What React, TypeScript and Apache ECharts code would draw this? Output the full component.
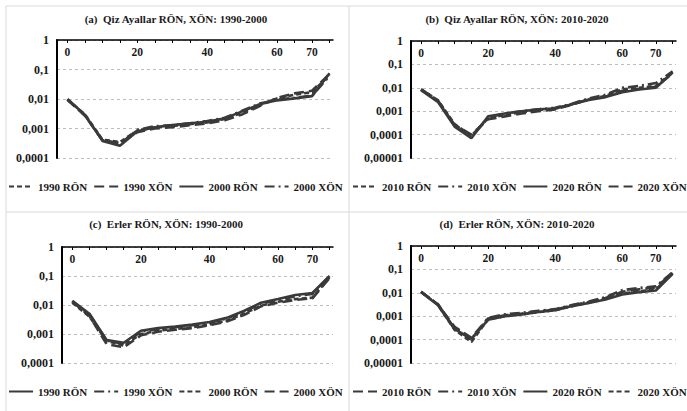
import React, { useEffect, useRef } from 'react';
import * as echarts from 'echarts';

// Ages (x values)
const ages = [0, 5, 10, 15, 20, 25, 30, 35, 40, 45, 50, 55, 60, 65, 70, 75];
const xTickValues = [0, 5, 10, 15, 20, 25, 30, 35, 40, 45, 50, 55, 60, 65, 70, 75];
const xLabelValues = [0, 20, 40, 60, 70];

// Panel titles
const titles = [
  '(a)  Qiz Ayallar RÖN, XÖN: 1990-2000',
  '(b)  Qiz Ayallar RÖN, XÖN: 2010-2020',
  '(c)  Erler RÖN, XÖN: 1990-2000',
  '(d)  Erler RÖN, XÖN: 2010-2020',
];

// Panel (a) Qiz Ayallar 1990-2000
const a1990RON = [0.0095, 0.0030, 0.00042, 0.00035, 0.00085, 0.0011, 0.0012, 0.0014, 0.0016, 0.0021, 0.0034, 0.0062, 0.0105, 0.014, 0.017, 0.065];
const a1990XON = [0.0095, 0.0027, 0.00040, 0.00032, 0.00075, 0.0010, 0.0011, 0.0013, 0.0015, 0.0019, 0.0030, 0.0058, 0.0110, 0.0155, 0.019, 0.07];
const a2000RON = [0.0100, 0.0029, 0.00038, 0.00026, 0.00080, 0.0011, 0.0013, 0.0015, 0.0017, 0.0022, 0.0038, 0.0066, 0.0090, 0.0105, 0.0125, 0.075];
const a2000XON = [0.0095, 0.0028, 0.00040, 0.00030, 0.00090, 0.0012, 0.0013, 0.0015, 0.0018, 0.0023, 0.0040, 0.0070, 0.0095, 0.0110, 0.0130, 0.060];

// Panel (b) Qiz Ayallar 2010-2020
const b2010RON = [0.0085, 0.0030, 0.00028, 0.00009, 0.00050, 0.0007, 0.0009, 0.0011, 0.0013, 0.0020, 0.0032, 0.0045, 0.0085, 0.0100, 0.0120, 0.045];
const b2010XON = [0.0085, 0.0029, 0.00025, 0.00008, 0.00055, 0.0008, 0.0010, 0.0012, 0.0014, 0.0021, 0.0035, 0.0050, 0.0100, 0.0120, 0.0160, 0.050];
const b2020RON = [0.0080, 0.0025, 0.00022, 0.00007, 0.00060, 0.0008, 0.0010, 0.0012, 0.0013, 0.0020, 0.0030, 0.0040, 0.0065, 0.0085, 0.0100, 0.045];
const b2020XON = [0.0085, 0.0027, 0.00026, 0.00010, 0.00045, 0.0006, 0.0008, 0.0010, 0.0012, 0.0019, 0.0033, 0.0042, 0.0075, 0.0090, 0.0110, 0.042];

// Panel (c) Erler 1990-2000
const c1990RON = [0.014, 0.0050, 0.00062, 0.00050, 0.0013, 0.0016, 0.0018, 0.0021, 0.0026, 0.0036, 0.0062, 0.012, 0.016, 0.022, 0.026, 0.10];
const c1990XON = [0.013, 0.0048, 0.00060, 0.00045, 0.0012, 0.0015, 0.0017, 0.0020, 0.0024, 0.0034, 0.0058, 0.011, 0.015, 0.020, 0.024, 0.095];
const c2000RON = [0.012, 0.0040, 0.00058, 0.00040, 0.0010, 0.0013, 0.0015, 0.0017, 0.0021, 0.0029, 0.0050, 0.0095, 0.013, 0.016, 0.018, 0.09];
const c2000XON = [0.013, 0.0042, 0.00045, 0.00035, 0.0009, 0.0012, 0.0014, 0.0016, 0.0020, 0.0027, 0.0045, 0.0090, 0.012, 0.015, 0.017, 0.085];

// Panel (d) Erler 2010-2020
const d2010RON = [0.011, 0.0032, 0.00035, 0.00012, 0.00080, 0.0011, 0.0013, 0.0016, 0.0019, 0.0029, 0.0040, 0.0060, 0.0110, 0.0140, 0.0170, 0.070];
const d2010XON = [0.011, 0.0033, 0.00030, 0.00010, 0.00085, 0.0012, 0.0014, 0.0017, 0.0020, 0.0030, 0.0042, 0.0065, 0.0130, 0.0160, 0.0190, 0.075];
const d2020RON = [0.0105, 0.0030, 0.00028, 0.00011, 0.00070, 0.0010, 0.0012, 0.0015, 0.0018, 0.0027, 0.0037, 0.0052, 0.0085, 0.0105, 0.0125, 0.065];
const d2020XON = [0.011, 0.0031, 0.00026, 0.00008, 0.00075, 0.0010, 0.0012, 0.0015, 0.0018, 0.0027, 0.0038, 0.0055, 0.0095, 0.0115, 0.0140, 0.068];

const yMins = [0.0001, 0.00001, 0.0001, 0.00001];

const FONT = '"Liberation Serif", "Times New Roman", serif';
const LINE = '#3a3a3a';

const SHORT = [5, 3];
const LONG = [10, 5];
const DASHDOT = [10, 4, 2, 4];
const SOLID = 'solid';

type S = { name: string; data: number[]; dash: any };

const panels: S[][] = [
  [
    { name: '1990 RÖN', data: a1990RON, dash: SHORT },
    { name: '1990 XÖN', data: a1990XON, dash: LONG },
    { name: '2000 RÖN', data: a2000RON, dash: SOLID },
    { name: '2000 XÖN', data: a2000XON, dash: DASHDOT },
  ],
  [
    { name: '2010 RÖN', data: b2010RON, dash: SHORT },
    { name: '2010 XÖN', data: b2010XON, dash: DASHDOT },
    { name: '2020 RÖN', data: b2020RON, dash: SOLID },
    { name: '2020 XÖN', data: b2020XON, dash: LONG },
  ],
  [
    { name: '1990 RÖN', data: c1990RON, dash: SOLID },
    { name: '1990 XÖN', data: c1990XON, dash: DASHDOT },
    { name: '2000 RÖN', data: c2000RON, dash: SHORT },
    { name: '2000 XÖN', data: c2000XON, dash: LONG },
  ],
  [
    { name: '2010 RÖN', data: d2010RON, dash: LONG },
    { name: '2010 XÖN', data: d2010XON, dash: DASHDOT },
    { name: '2020 RÖN', data: d2020RON, dash: SOLID },
    { name: '2020 XÖN', data: d2020XON, dash: SHORT },
  ],
];

const grids = [
  { left: 57, top: 40, width: 276, height: 118 },
  { left: 411, top: 41, width: 265, height: 117 },
  { left: 62, top: 247, width: 271, height: 116 },
  { left: 411, top: 246, width: 265, height: 117 },
];
const titlePos = [
  { x: 176, y: 13 },
  { x: 517, y: 13 },
  { x: 166, y: 218 },
  { x: 517, y: 218 },
];
const legendPos = [
  { x: 8, y: 181 },
  { x: 352, y: 181 },
  { x: 8, y: 386 },
  { x: 352, y: 386 },
];
const suffix = ['#a', '#b', '#c', '#d'];

function yFmt(v: number) {
  const e = Math.round(Math.log10(v));
  if (e >= 0) return '1';
  return '0,' + '0'.repeat(-e - 1) + '1';
}

export default function App() {
  const ref = useRef<HTMLDivElement>(null);
  useEffect(() => {
    if (!ref.current) return;
    const chart = echarts.init(ref.current, undefined, { renderer: 'svg' });
    const series: any[] = [];
    panels.forEach((p, i) => {
      p.forEach((s) => {
        series.push({
          type: 'line',
          name: s.name + suffix[i],
          xAxisIndex: i,
          yAxisIndex: i,
          data: ages.map((a, k) => [a, s.data[k]]),
          symbol: 'none',
          lineStyle: { color: LINE, width: 2.6, type: s.dash },
          itemStyle: { color: LINE },
        });
      });
    });
    const option: any = {
      animation: false,
      backgroundColor: '#ffffff',
      title: titles.map((t, i) => ({
        text: t,
        left: titlePos[i].x,
        top: titlePos[i].y,
        textAlign: 'center',
        padding: 0,
        textStyle: { fontFamily: FONT, fontWeight: 'bold', fontSize: 11, color: '#1a1a1a' },
      })),
      legend: panels.map((p, i) => ({
        data: p.map((s) => s.name + suffix[i]),
        left: legendPos[i].x,
        top: legendPos[i].y,
        width: 340,
        padding: 0,
        itemWidth: 24,
        itemHeight: 12,
        itemGap: 6,
        selectedMode: false,
        itemStyle: { opacity: 0 },
        formatter: (n: string) => n.split('#')[0],
        textStyle: { fontFamily: FONT, fontWeight: 'bold', fontSize: 11, color: '#1a1a1a' },
      })),
      grid: grids.map((g) => ({ ...g, containLabel: false })),
      xAxis: grids.map((_, i) => ({
        type: 'value',
        gridIndex: i,
        position: 'top',
        min: -3,
        max: 76,
        axisLine: { show: true, onZero: false, lineStyle: { color: '#000', width: 1.5 } },
        axisTick: { show: true, inside: true, length: 3, customValues: xTickValues, lineStyle: { color: '#000', width: 1 } },
        axisLabel: {
          show: true,
          inside: true,
          margin: 6,
          customValues: xLabelValues,
          fontFamily: FONT,
          fontWeight: 'bold',
          fontSize: 11.5,
          color: '#1a1a1a',
        },
        splitLine: { show: false },
      })),
      yAxis: grids.map((_, i) => ({
        type: 'log',
        logBase: 10,
        gridIndex: i,
        min: yMins[i],
        max: 1,
        axisLine: { show: true, onZero: false, lineStyle: { color: '#000', width: 2 } },
        axisTick: { show: false },
        axisLabel: {
          formatter: yFmt,
          margin: 8,
          fontFamily: FONT,
          fontWeight: 'bold',
          fontSize: 12,
          color: '#1a1a1a',
        },
        splitLine: { show: true, lineStyle: { color: '#bdbdbd', width: 1, type: [3, 3] } },
      })),
      series,
      graphic: [
        { type: 'line', shape: { x1: 6, y1: 6, x2: 687, y2: 6 }, style: { stroke: '#d9d9d9', lineWidth: 1 } },
        { type: 'line', shape: { x1: 6, y1: 212, x2: 687, y2: 212 }, style: { stroke: '#d9d9d9', lineWidth: 1 } },
        { type: 'line', shape: { x1: 6, y1: 6, x2: 6, y2: 411 }, style: { stroke: '#d9d9d9', lineWidth: 1 } },
        { type: 'line', shape: { x1: 349, y1: 6, x2: 349, y2: 411 }, style: { stroke: '#d9d9d9', lineWidth: 1 } },
      ],
    };
    chart.setOption(option);
    return () => chart.dispose();
  }, []);
  return (
    <div style={{ position: 'fixed', left: 0, top: 0, width: 687, height: 411, background: '#fff' }}>
      <div ref={ref} style={{ width: 687, height: 411 }} />
    </div>
  );
}
